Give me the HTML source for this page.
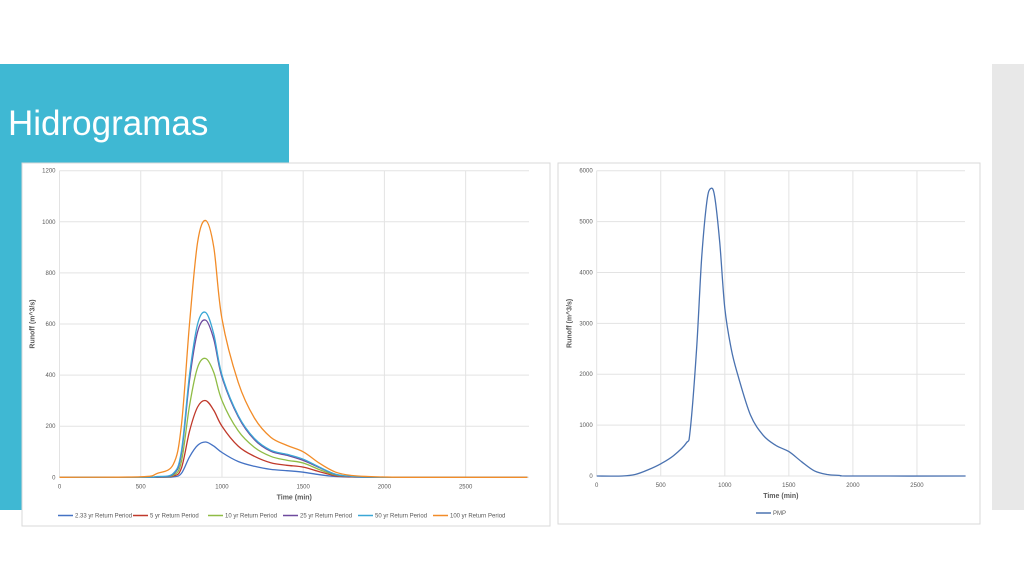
<!DOCTYPE html>
<html><head><meta charset="utf-8"><style>
body{margin:0;width:1024px;height:576px;background:#fff;overflow:hidden;position:relative;font-family:"Liberation Sans",sans-serif}
.abs{position:absolute}
</style></head><body>
<div class="abs" style="left:0;top:64px;width:289px;height:99px;background:#3fb8d3"></div>
<div class="abs" style="left:0;top:163px;width:22px;height:347px;background:#3fb8d3"></div>
<div class="abs" style="left:992px;top:64px;width:32px;height:446px;background:#e8e8e8"></div>
<div class="abs" style="left:8px;top:104px;color:#fff;font-size:35px;line-height:40px">Hidrogramas</div>
<svg class="abs" style="left:0;top:0" width="1024" height="576">
<rect x="22" y="163" width="528" height="363" fill="#fff" stroke="#d9d9d9"/>
<rect x="558" y="163" width="422" height="361" fill="#fff" stroke="#d9d9d9"/>
<g id="L"></g><g id="R"></g>
</svg>
<script>
const tL=[0,500,600,700,750,800,850,900,950,1000,1100,1200,1300,1400,1500,1600,1700,1800,1900,2000,2200,2880];
const s233=[0,0,0,2,15,80,125,138,122,97,62,43,31,26,20,10,3,1,0,0,0,0];
const s5=[0,0,1,5,35,180,275,300,262,200,122,82,57,47,40,22,6,2,1,0,0,0];
const s10=[0,0,1,8,60,280,430,465,410,300,182,117,82,67,56,30,9,3,1,0,0,0];
const s25=[0,0,2,12,90,380,570,615,540,392,237,147,102,86,66,38,11,3,1,0,0,0];
const s50=[0,0,3,15,100,400,600,645,560,400,242,152,106,90,71,40,12,4,1,0,0,0];
const s100=[0,2,15,50,200,600,920,1005,900,620,372,232,157,125,100,55,20,7,3,1,0,0];
const seriesNames=["2.33 yr Return Period","5 yr Return Period","10 yr Return Period","25 yr Return Period","50 yr Return Period","100 yr Return Period"];
const seriesColors=["#4472c4","#c0392b","#8fbc45","#6e4a9e","#3aa7d6","#f28c28"];
const xTicks=[0,500,1000,1500,2000,2500];
const yTicksL=[0,200,400,600,800,1000,1200];
const tP=[0,200,300,400,500,600,700,730,780,820,860,890,920,960,1000,1050,1100,1200,1300,1400,1500,1600,1700,1800,1900,2000,2880];
const sP=[0,0,30,120,240,400,650,900,2500,4300,5400,5650,5500,4600,3300,2500,2000,1200,800,600,480,280,100,30,10,0,0];
const yTicksR=[0,1000,2000,3000,4000,5000,6000];
const NS="http://www.w3.org/2000/svg";
function mk(p,tag,at,txt){const e=document.createElementNS(NS,tag);for(const k in at)e.setAttribute(k,at[k]);if(txt!==undefined)e.textContent=txt;p.appendChild(e);return e;}
function path(xs,ys){let pts=xs.map((x,i)=>[x,ys[i]]);let d="M"+pts[0][0]+","+pts[0][1];
for(let i=0;i<pts.length-1;i++){const p0=pts[i-1]||pts[i],p1=pts[i],p2=pts[i+1],p3=pts[i+2]||p2;
const c1=[p1[0]+(p2[0]-p0[0])/6,p1[1]+(p2[1]-p0[1])/6],c2=[p2[0]-(p3[0]-p1[0])/6,p2[1]-(p3[1]-p1[1])/6];
d+=` C${c1[0].toFixed(1)},${c1[1].toFixed(1)} ${c2[0].toFixed(1)},${c2[1].toFixed(1)} ${p2[0].toFixed(1)},${p2[1].toFixed(1)}`;}return d;}
function chart(g,o){
 const X=v=>o.x0+(v/o.xmax)*(o.x1-o.x0), Y=v=>o.y0-(v/o.ymax)*(o.y0-o.y1);
 o.xt.forEach(v=>{const l=mk(g,'line',{x1:X(v),x2:X(v),y1:o.y1,y2:o.y0,stroke:'#e3e3e3'});
  const t=mk(g,'text',{x:X(v),y:o.y0+11,'font-size':6,fill:'#595959','text-anchor':'middle'},v);});
 o.yt.forEach(v=>{const l=mk(g,'line',{x1:o.x0,x2:o.x1,y1:Y(v),y2:Y(v),stroke:'#e3e3e3'});
  const t=mk(g,'text',{x:o.x0-4,y:Y(v)+2,'font-size':6,fill:'#595959','text-anchor':'end'},v);});
 const xt=mk(g,'text',{x:(o.x0+o.x1)/2,y:o.y0+22,'font-size':7,'font-weight':'bold',fill:'#595959','text-anchor':'middle'},'Time (min)');
 
 const yx=o.x0-25,yy=(o.y0+o.y1)/2;
 const yt=mk(g,'text',{x:yx,y:yy,'font-size':7,'font-weight':'bold',fill:'#595959','text-anchor':'middle',transform:`rotate(-90 ${yx} ${yy})`},'Runoff (m^3/s)');
 
 o.series.forEach((s,i)=>{const p=mk(g,'path',{d:path(o.t.map(X),s.v.map(Y)),fill:'none',stroke:s.c,'stroke-width':1.3});
  
  const lx=o.lx+i*o.lw;const ll=mk(g,'line',{x1:lx,x2:lx+15,y1:o.ly,y2:o.ly,stroke:s.c,'stroke-width':1.5});
  
  const lt=mk(g,'text',{x:lx+17,y:o.ly+2,'font-size':6,fill:'#595959'},s.n);});
}
chart(document.getElementById('L'),{x0:59.5,x1:529,y0:477.3,y1:170.7,xmax:2890,ymax:1200,xt:xTicks,yt:yTicksL,t:tL,
 series:[s233,s5,s10,s25,s50,s100].map((v,i)=>({v,c:seriesColors[i],n:seriesNames[i]})),lx:58,lw:75,ly:515.5});
chart(document.getElementById('R'),{x0:596.7,x1:965,y0:476,y1:170.7,xmax:2875,ymax:6000,xt:xTicks,yt:yTicksR,t:tP,
 series:[{v:sP,c:'#4a72b0',n:'PMP'}],lx:756,lw:0,ly:513});
</script>
</body></html>
